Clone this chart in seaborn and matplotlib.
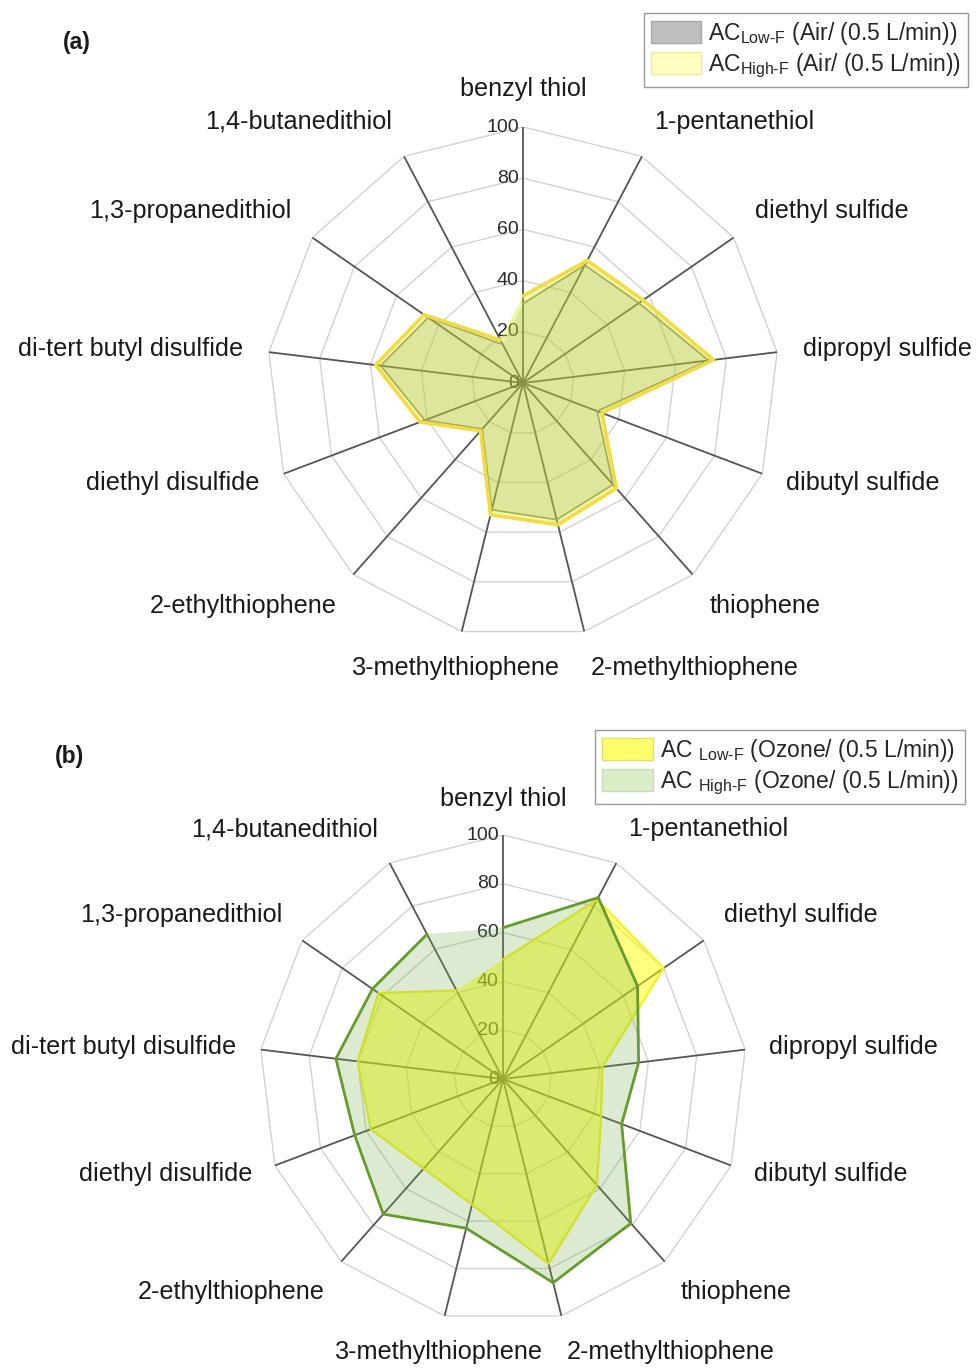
import numpy as np
import matplotlib
matplotlib.use("Agg")
import matplotlib.pyplot as plt
from matplotlib.patches import Patch
import seaborn as sns

# =====================================
# Data
# =====================================
compounds = [
    "benzyl thiol", "1-pentanethiol", "diethyl sulfide", "dipropyl sulfide",
    "dibutyl sulfide", "thiophene", "2-methylthiophene", "3-methylthiophene",
    "2-ethylthiophene", "diethyl disulfide", "di-tert butyl disulfide",
    "1,3-propanedithiol", "1,4-butanedithiol",
]
air_low_f = [31, 52, 55, 73, 31, 53, 55, 51, 24, 41, 56, 45, 17]
air_high_f = [34, 54, 57, 75, 33, 55, 57, 53, 25, 43, 58, 47, 19]
ozone_low_f = [49, 83, 80, 41, 43, 58, 78, 53, 49, 58, 60, 62, 41]
ozone_high_f = [62, 84, 67, 56, 52, 79, 86, 63, 74, 65, 69, 65, 67]
r_ticks = [0, 20, 40, 60, 80, 100]

air_labels = [r"AC$_{\text{Low-F}}$ (Air/ (0.5 L/min))",
              r"AC$_{\text{High-F}}$ (Air/ (0.5 L/min))"]
ozone_labels = [r"AC $_{\text{Low-F}}$ (Ozone/ (0.5 L/min))",
                r"AC $_{\text{High-F}}$ (Ozone/ (0.5 L/min))"]

# =====================================
# Style
# =====================================
sns.set_theme(style="white")
plt.rcParams["font.family"] = ["Liberation Sans", "DejaVu Sans"]
plt.rcParams["mathtext.fontset"] = "custom"
plt.rcParams["mathtext.rm"] = "Liberation Sans"
plt.rcParams["mathtext.it"] = "Liberation Sans:italic"
plt.rcParams["mathtext.bf"] = "Liberation Sans:bold"

W, H = 978, 1368
fig = plt.figure(figsize=(W / 100, H / 100), dpi=100)


def closed(vals):
    return list(vals) + [vals[0]]


def radar_frame(ax):
    n = len(compounds)
    theta = np.linspace(0, 2 * np.pi, n, endpoint=False)
    ax.set_theta_zero_location("N")
    ax.set_theta_direction(-1)
    ax.set_ylim(0, 100)
    ax.grid(False)
    ax.set_xticks([])
    ax.set_yticks([])
    ax.spines["polar"].set_visible(False)
    ax.set_facecolor("none")

    tc = closed(list(theta))
    for r in r_ticks[1:]:
        ax.plot(tc, [r] * (n + 1), color="#d2d2d2", lw=1.0, zorder=1)
    for t in theta:
        ax.plot([t, t], [0, 100], color="#555555", lw=1.3, zorder=1.5)
    for r in r_ticks:
        ax.annotate(str(r), xy=(0, r), xytext=(-3, 0), textcoords="offset points",
                    ha="right", va="center", fontsize=14, color="#2a2a2a", zorder=2)

    for k, (t, name) in enumerate(zip(theta, compounds)):
        s, c = np.sin(t), np.cos(t)
        if abs(s) < 0.05 or k == 7:
            ha = "center"
        else:
            ha = "left" if s > 0 else "right"
        if c > 0.3:
            va = "bottom"
        elif c < -0.5:
            va = "top"
        else:
            va = "center"
        ax.text(t, 110, name, ha=ha, va=va, fontsize=18.2, color="#1a1a1a",
                clip_on=False)
    return theta


def draw_series(ax, theta, vals, fill, alpha, edge, lw, z):
    tc = closed(list(theta))
    vc = closed(vals)
    ax.fill(tc, vc, color=fill, alpha=alpha, lw=0, zorder=z)
    sns.lineplot(x=tc, y=vc, sort=False, color=edge, lw=lw, ax=ax,
                 zorder=z + 0.5, legend=False)


# =====================================
# (a) Air
# =====================================
ax1 = fig.add_axes([(523 - 256) / W, 1 - (383 + 256) / H, 512 / W, 512 / H],
                   projection="polar")
th = radar_frame(ax1)
draw_series(ax1, th, air_low_f, "#808080", 0.22, "#8a8a70", 1.2, 3)
draw_series(ax1, th, air_high_f, "#d6ea1e", 0.36, "#f2dc46", 2.6, 4)
ax1.set_xlabel("")
ax1.set_ylabel("")

fig.legend(handles=[Patch(facecolor="#bfbfbf", edgecolor="#a8a8a8", label=air_labels[0]),
                    Patch(facecolor="#ffffbf", edgecolor="#ecec9a", label=air_labels[1])],
           loc="upper right", bbox_to_anchor=(968 / W, 1 - 13 / H), fontsize=16.5,
           frameon=True, fancybox=False, edgecolor="#9a9a9a", framealpha=1,
           handlelength=2.2, handleheight=1.1, borderpad=0.3, labelspacing=0.2,
           handletextpad=0.3, borderaxespad=0)
fig.text(77 / W, 1 - 43 / H, "(a)", ha="center", va="center", fontsize=16.5,
         fontweight="bold", color="#1a1a1a")

# =====================================
# (b) Ozone
# =====================================
ax2 = fig.add_axes([(503 - 244) / W, 1 - (1079 + 244) / H, 488 / W, 488 / H],
                   projection="polar")
th = radar_frame(ax2)
draw_series(ax2, th, ozone_low_f, "#ffff00", 0.5, "#f2f21e", 1.6, 3)
draw_series(ax2, th, ozone_high_f, "#70ad47", 0.25, "#649d2c", 2.0, 4)
ax2.set_xlabel("")
ax2.set_ylabel("")

fig.legend(handles=[Patch(facecolor="#ffff6e", edgecolor="#e0e060", label=ozone_labels[0]),
                    Patch(facecolor="#daecc8", edgecolor="#c8dcb4", label=ozone_labels[1])],
           loc="upper right", bbox_to_anchor=(965 / W, 1 - 730 / H), fontsize=16.5,
           frameon=True, fancybox=False, edgecolor="#9a9a9a", framealpha=1,
           handlelength=2.2, handleheight=1.1, borderpad=0.3, labelspacing=0.2,
           handletextpad=0.3, borderaxespad=0)
fig.text(70 / W, 1 - 757 / H, "(b)", ha="center", va="center", fontsize=16.5,
         fontweight="bold", color="#1a1a1a")

fig.savefig("out.png", dpi=100)
plt.close(fig)
